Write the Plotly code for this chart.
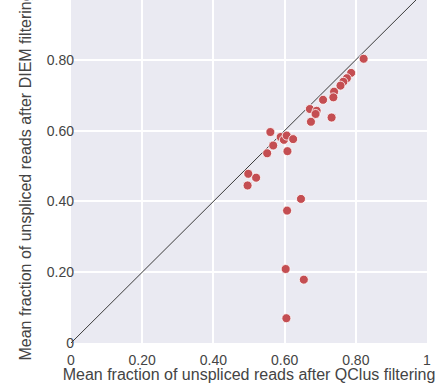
import plotly.graph_objects as go

# Mean fraction of unspliced reads per sample
qclus = [0.822, 0.787, 0.775, 0.765, 0.757, 0.739, 0.737, 0.708, 0.671, 0.690,
         0.687, 0.674, 0.732, 0.560, 0.589, 0.598, 0.606, 0.624, 0.568, 0.551,
         0.608, 0.498, 0.520, 0.496, 0.646, 0.607, 0.603, 0.654, 0.605]
diem = [0.803, 0.763, 0.748, 0.738, 0.727, 0.710, 0.694, 0.687, 0.661, 0.656,
        0.647, 0.625, 0.637, 0.596, 0.582, 0.574, 0.586, 0.576, 0.558, 0.536,
        0.542, 0.478, 0.467, 0.445, 0.407, 0.374, 0.209, 0.179, 0.070]

diag = [0, 1]
tick_vals = [0, 0.2, 0.4, 0.6, 0.8, 1.0]
tick_text = ["0", "0.20", "0.40", "0.60", "0.80", "1"]
x_title = "Mean fraction of unspliced reads after QClus filtering"
y_title = "Mean fraction of unspliced reads after DIEM filtering"

fig = go.Figure()
fig.add_trace(go.Scatter(x=diag, y=diag, mode="lines",
                         line=dict(color="#3a3a3a", width=1), hoverinfo="skip",
                         showlegend=False))
fig.add_trace(go.Scatter(x=qclus, y=diem, mode="markers",
                         marker=dict(color="#C44E52", size=9,
                                     line=dict(color="white", width=0.8)),
                         showlegend=False))

axis_common = dict(
    showgrid=True, gridcolor="white", gridwidth=1.5, zeroline=False,
    showline=False, ticks="",
    tickfont=dict(family="Liberation Sans, Arial", size=14, color="#444444"),
    tickvals=tick_vals, ticktext=tick_text,
)
fig.update_layout(
    width=441, height=383,
    margin=dict(l=71, r=14, t=0, b=40),
    paper_bgcolor="white", plot_bgcolor="#EAEAF2",
    font=dict(family="Liberation Sans, Arial", color="#444444"),
    xaxis=dict(range=[0, 1], ticklabelstandoff=7,
               title=dict(text=x_title,
                          font=dict(size=16, color="#444444"), standoff=4),
               **axis_common),
    yaxis=dict(range=[0, 0.969], ticklabelstandoff=-4, **axis_common),
    annotations=[dict(text=y_title, textangle=-90, showarrow=False,
                      xref="paper", yref="paper", x=0, y=0.5,
                      xanchor="center", yanchor="middle", xshift=-46, yshift=-5,
                      font=dict(size=16, color="#444444",
                                family="Liberation Sans, Arial"))],
)
fig.write_html("out.html", config={"displayModeBar": False},
               post_script="document.body.style.margin='0';")
